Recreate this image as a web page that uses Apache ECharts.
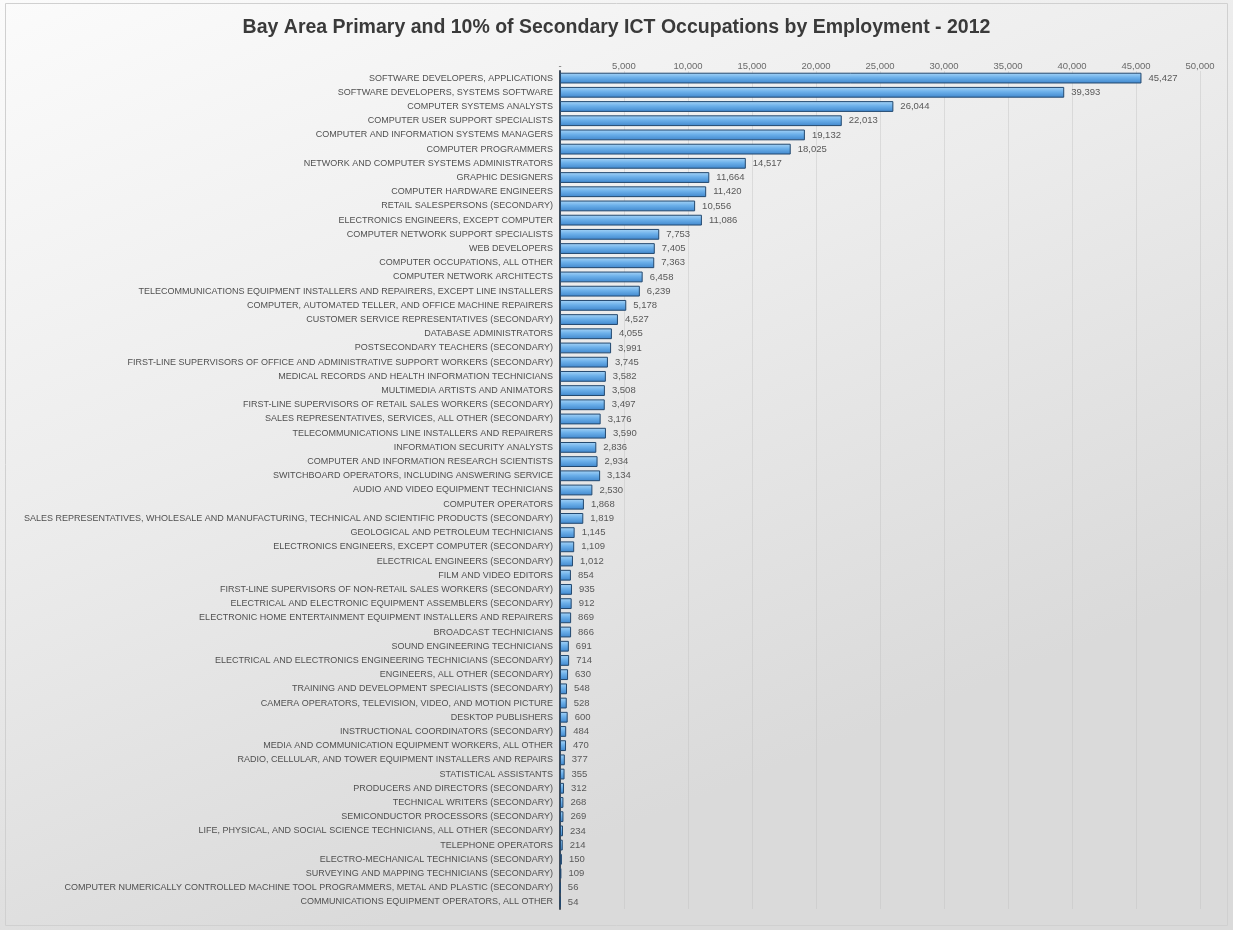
<!DOCTYPE html>
<html>
<head>
<meta charset="utf-8">
<script src="https://cdn.jsdelivr.net/npm/echarts@6/dist/echarts.min.js"></script>
<style>
html,body{margin:0;padding:0;background:#ffffff;}
#chart{width:1233px;height:930px;}
</style>
</head>
<body>
<div id="chart"></div>
<script>
const titleText = "Bay Area Primary and 10% of Secondary ICT Occupations by Employment - 2012";

const occupations = [
  "SOFTWARE DEVELOPERS, APPLICATIONS",
  "SOFTWARE DEVELOPERS, SYSTEMS SOFTWARE",
  "COMPUTER SYSTEMS ANALYSTS",
  "COMPUTER USER SUPPORT SPECIALISTS",
  "COMPUTER AND INFORMATION SYSTEMS MANAGERS",
  "COMPUTER PROGRAMMERS",
  "NETWORK AND COMPUTER SYSTEMS ADMINISTRATORS",
  "GRAPHIC DESIGNERS",
  "COMPUTER HARDWARE ENGINEERS",
  "RETAIL SALESPERSONS (SECONDARY)",
  "ELECTRONICS ENGINEERS, EXCEPT COMPUTER",
  "COMPUTER NETWORK SUPPORT SPECIALISTS",
  "WEB DEVELOPERS",
  "COMPUTER OCCUPATIONS, ALL OTHER",
  "COMPUTER NETWORK ARCHITECTS",
  "TELECOMMUNICATIONS EQUIPMENT INSTALLERS AND REPAIRERS, EXCEPT LINE INSTALLERS",
  "COMPUTER, AUTOMATED TELLER, AND OFFICE MACHINE REPAIRERS",
  "CUSTOMER SERVICE REPRESENTATIVES (SECONDARY)",
  "DATABASE ADMINISTRATORS",
  "POSTSECONDARY TEACHERS (SECONDARY)",
  "FIRST-LINE SUPERVISORS OF OFFICE AND ADMINISTRATIVE SUPPORT WORKERS (SECONDARY)",
  "MEDICAL RECORDS AND HEALTH INFORMATION TECHNICIANS",
  "MULTIMEDIA ARTISTS AND ANIMATORS",
  "FIRST-LINE SUPERVISORS OF RETAIL SALES WORKERS (SECONDARY)",
  "SALES REPRESENTATIVES, SERVICES, ALL OTHER (SECONDARY)",
  "TELECOMMUNICATIONS LINE INSTALLERS AND REPAIRERS",
  "INFORMATION SECURITY ANALYSTS",
  "COMPUTER AND INFORMATION RESEARCH SCIENTISTS",
  "SWITCHBOARD OPERATORS, INCLUDING ANSWERING SERVICE",
  "AUDIO AND VIDEO EQUIPMENT TECHNICIANS",
  "COMPUTER OPERATORS",
  "SALES REPRESENTATIVES, WHOLESALE AND MANUFACTURING, TECHNICAL AND SCIENTIFIC PRODUCTS (SECONDARY)",
  "GEOLOGICAL AND PETROLEUM TECHNICIANS",
  "ELECTRONICS ENGINEERS, EXCEPT COMPUTER (SECONDARY)",
  "ELECTRICAL ENGINEERS (SECONDARY)",
  "FILM AND VIDEO EDITORS",
  "FIRST-LINE SUPERVISORS OF NON-RETAIL SALES WORKERS (SECONDARY)",
  "ELECTRICAL AND ELECTRONIC EQUIPMENT ASSEMBLERS (SECONDARY)",
  "ELECTRONIC HOME ENTERTAINMENT EQUIPMENT INSTALLERS AND REPAIRERS",
  "BROADCAST TECHNICIANS",
  "SOUND ENGINEERING TECHNICIANS",
  "ELECTRICAL AND ELECTRONICS ENGINEERING TECHNICIANS (SECONDARY)",
  "ENGINEERS, ALL OTHER (SECONDARY)",
  "TRAINING AND DEVELOPMENT SPECIALISTS (SECONDARY)",
  "CAMERA OPERATORS, TELEVISION, VIDEO, AND MOTION PICTURE",
  "DESKTOP PUBLISHERS",
  "INSTRUCTIONAL COORDINATORS (SECONDARY)",
  "MEDIA AND COMMUNICATION EQUIPMENT WORKERS, ALL OTHER",
  "RADIO, CELLULAR, AND TOWER EQUIPMENT INSTALLERS AND REPAIRS",
  "STATISTICAL ASSISTANTS",
  "PRODUCERS AND DIRECTORS (SECONDARY)",
  "TECHNICAL WRITERS (SECONDARY)",
  "SEMICONDUCTOR PROCESSORS (SECONDARY)",
  "LIFE, PHYSICAL, AND SOCIAL SCIENCE TECHNICIANS, ALL OTHER (SECONDARY)",
  "TELEPHONE OPERATORS",
  "ELECTRO-MECHANICAL TECHNICIANS (SECONDARY)",
  "SURVEYING AND MAPPING TECHNICIANS (SECONDARY)",
  "COMPUTER NUMERICALLY CONTROLLED MACHINE TOOL PROGRAMMERS, METAL AND PLASTIC (SECONDARY)",
  "COMMUNICATIONS EQUIPMENT OPERATORS, ALL OTHER"
];

const employment = [
  45427, 39393, 26044, 22013, 19132, 18025, 14517, 11664, 11420, 10556,
  11086, 7753, 7405, 7363, 6458, 6239, 5178, 4527, 4055, 3991,
  3745, 3582, 3508, 3497, 3176, 3590, 2836, 2934, 3134, 2530,
  1868, 1819, 1145, 1109, 1012, 854, 935, 912, 869, 866,
  691, 714, 630, 548, 528, 600, 484, 470, 377, 355,
  312, 268, 269, 234, 214, 150, 109, 56, 54
];

const axisMin = 0;
const axisMax = 50000;
const axisStep = 5000;

function fmt(v) {
  if (v === 0) return '-';
  return v.toLocaleString('en-US');
}

const chart = echarts.init(document.getElementById('chart'));
const labelFont = '"Liberation Sans", Arial, sans-serif';

chart.setOption({
  animation: false,
  backgroundColor: {
    type: 'linear', x: 0, y: 0, x2: 0.3, y2: 1,
    colorStops: [
      { offset: 0, color: '#fbfbfb' },
      { offset: 0.5, color: '#ececec' },
      { offset: 1, color: '#dadada' }
    ]
  },
  title: {
    text: titleText,
    left: 'center',
    top: 13,
    textStyle: {
      fontFamily: '"Liberation Sans", Arial, sans-serif',
      fontSize: 19.5,
      fontWeight: 'bold',
      color: '#3a3a3a'
    }
  },
  graphic: [{
    type: 'rect',
    shape: { x: 5.5, y: 3.5, width: 1222, height: 922 },
    style: { fill: 'none', stroke: '#d0d0d0', lineWidth: 1 },
    silent: true
  }],
  grid: {
    left: 560,
    right: 33,
    top: 71,
    bottom: 21,
    containLabel: false,
    outerBoundsMode: 'none'
  },
  xAxis: {
    type: 'value',
    position: 'top',
    min: axisMin,
    max: axisMax,
    interval: axisStep,
    axisLine: { show: false },
    axisTick: { show: false },
    axisLabel: {
      formatter: fmt,
      color: '#6a6a6a',
      fontSize: 9.5,
      fontFamily: labelFont,
      margin: 0
    },
    splitLine: {
      show: true,
      lineStyle: { color: 'rgba(190,190,190,0.4)', width: 1 }
    }
  },
  yAxis: {
    type: 'category',
    data: occupations,
    inverse: true,
    axisLine: { show: true, lineStyle: { color: '#3c4a5a', width: 2 } },
    axisTick: { show: false },
    axisLabel: {
      color: '#505050',
      fontSize: 9,
      fontFamily: labelFont,
      margin: 7,
      interval: 0
    },
    splitLine: { show: false }
  },
  series: [{
    type: 'bar',
    data: employment,
    barCategoryGap: '24%',
    itemStyle: {
      color: {
        type: 'linear', x: 0, y: 0, x2: 0, y2: 1,
        colorStops: [
          { offset: 0, color: '#a8d5f7' },
          { offset: 0.45, color: '#6cb0ea' },
          { offset: 1, color: '#3f86cc' }
        ]
      },
      borderColor: '#23486e',
      borderWidth: 1
    },
    label: {
      show: true,
      position: 'right',
      distance: 7,
      formatter: p => fmt(p.value),
      color: '#595959',
      fontSize: 9.5,
      fontFamily: labelFont
    }
  }]
});
</script>
</body>
</html>
